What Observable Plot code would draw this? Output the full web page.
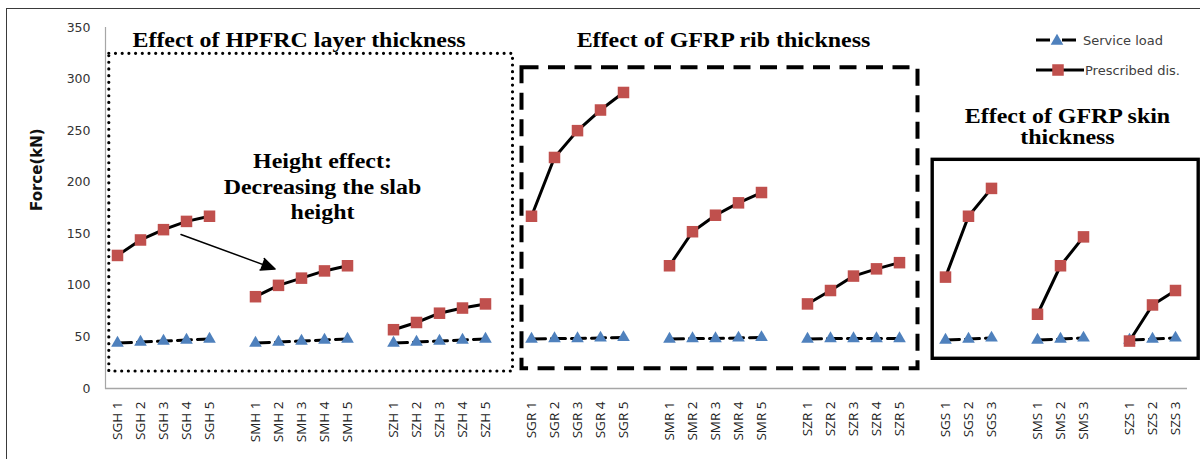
<!DOCTYPE html>
<html>
<head>
<meta charset="utf-8">
<script src="https://cdn.jsdelivr.net/npm/d3@7"></script>
<script src="https://cdn.jsdelivr.net/npm/@observablehq/plot@0.6"></script>
<style>
  html, body { margin: 0; padding: 0; background: #fff; }
  #wrap { position: relative; width: 1200px; height: 459px; overflow: hidden; background: #fff; }
  #border { position: absolute; left: 6px; top: 8px; width: 1400px; height: 700px; border: 1.5px solid #3a3a3a; box-sizing: border-box; }
  #chart { position: absolute; left: 0; top: 0; }
  #legend { position: absolute; left: 1030px; top: 25px; }
</style>
</head>
<body>
<div id="wrap">
  <div id="border"></div>
  <div id="chart"></div>
  <svg id="legend" width="170" height="60"></svg>
</div>
<script>
// ---- Data ----
const categoryGroups = [
  ["SGH 1", "SGH 2", "SGH 3", "SGH 4", "SGH 5"],
  ["SMH 1", "SMH 2", "SMH 3", "SMH 4", "SMH 5"],
  ["SZH 1", "SZH 2", "SZH 3", "SZH 4", "SZH 5"],
  ["SGR 1", "SGR 2", "SGR 3", "SGR 4", "SGR 5"],
  ["SMR 1", "SMR 2", "SMR 3", "SMR 4", "SMR 5"],
  ["SZR 1", "SZR 2", "SZR 3", "SZR 4", "SZR 5"],
  ["SGS 1", "SGS 2", "SGS 3"],
  ["SMS 1", "SMS 2", "SMS 3"],
  ["SZS 1", "SZS 2", "SZS 3"]
];
const serviceLoad = [
  [44, 45, 46, 47, 48],
  [44, 45, 46, 47, 48],
  [44, 45, 46, 47, 48],
  [48, 48.5, 48.5, 49, 49.5],
  [48, 48.5, 48.5, 49, 49.5],
  [48, 48.5, 48.5, 48.5, 48.5],
  [47, 48, 49],
  [47, 48, 49],
  [47, 48, 49]
];
const prescribedDis = [
  [129, 144, 154, 162, 167],
  [89, 100, 107, 114, 119],
  [57, 64, 73, 78, 82],
  [167, 224, 250, 270, 287],
  [119, 152, 168, 180, 190],
  [82, 95, 109, 116, 122],
  [108, 167, 194],
  [72, 119, 147],
  [46, 81, 95]
];
const seriesNames = ["Service load", "Prescribed dis."];
const yTicks = [0, 50, 100, 150, 200, 250, 300, 350];
const yLabel = "Force(kN)";
const annotationTexts = [
  "Effect of HPFRC layer thickness",
  "Effect of GFRP rib thickness",
  "Effect of GFRP skin\nthickness",
  "Height effect:\nDecreasing the slab\nheight"
];

// ---- Build domain (with blank gaps between groups) and rows ----
const xDomain = [];
const tickCats = [];
categoryGroups.forEach((g, gi) => {
  g.forEach(c => { xDomain.push(c); tickCats.push(c); });
  if (gi < categoryGroups.length - 1) xDomain.push("gap" + gi);
});
const serviceRows = [];
const prescribedRows = [];
categoryGroups.forEach((g, gi) => g.forEach((c, j) => {
  serviceRows.push({cat: c, group: gi, value: serviceLoad[gi][j]});
  prescribedRows.push({cat: c, group: gi, value: prescribedDis[gi][j]});
}));

const RED = "#C0504D";
const BLUE = "#4F81BD";
const serif = "Liberation Serif";

const chart = Plot.plot({
  width: 1200,
  height: 459,
  marginLeft: 105,
  marginRight: 13,
  marginTop: 27,
  marginBottom: 71,
  style: {background: "transparent", overflow: "visible", fontFamily: "DejaVu Sans"},
  x: {type: "point", domain: xDomain, padding: 0.5, align: 0.5},
  y: {domain: [0, 350]},
  marks: [
    Plot.frame({anchor: "left", stroke: "#a6a6a6", strokeWidth: 1.2}),
    Plot.ruleY([0], {stroke: "#a6a6a6", strokeWidth: 1.5}),
    Plot.axisY({ticks: yTicks, tickSize: 0, tickPadding: 15, fontSize: 12.5, label: null, color: "#333", fontFamily: "DejaVu Sans"}),
    Plot.axisX({ticks: tickCats, tickSize: 0, tickPadding: 13, tickRotate: -90, label: null, fontSize: 13.5, color: "#222", fontFamily: "Open Sans"}),
    Plot.text([yLabel], {frameAnchor: "left", rotate: -90, dx: -68, dy: 3, fontSize: 15, fontWeight: "bold", fontFamily: "DejaVu Sans", fill: "#111"}),

    // annotation boxes
    Plot.rect([{x1: "SGH 1", x2: "gap2", y1: 16.5, y2: 324.5}], {
      x1: "x1", x2: "x2", y1: "y1", y2: "y2", fill: "none", stroke: "black",
      strokeWidth: 3.2, strokeDasharray: "0 6.7", strokeLinecap: "round", insetLeft: -8.2, insetRight: -4.5
    }),
    Plot.rect([{x1: "SGR 1", x2: "gap5", y1: 19.1, y2: 311}], {
      x1: "x1", x2: "x2", y1: "y1", y2: "y2", fill: "none", stroke: "black",
      strokeWidth: 4, strokeDasharray: "17 9.5", insetLeft: -9.5, insetRight: 4.5
    }),
    Plot.rect([{x1: "SGS 1", x2: "SZS 3", y1: 28.8, y2: 221.7}], {
      x1: "x1", x2: "x2", y1: "y1", y2: "y2", fill: "none", stroke: "black",
      strokeWidth: 3.4, insetLeft: -12.8, insetRight: -23.2
    }),

    // arrow
    Plot.arrow([{x1: "SGH 3", y1: 155.5, x2: "SMH 2", y2: 114.7}], {
      x1: "x1", y1: "y1", x2: "x2", y2: "y2", bend: 0, stroke: "black", fill: "black",
      strokeWidth: 1.5, headLength: 15, headAngle: 48, insetStart: 18.6, insetEnd: 3.7
    }),

    // series
    Plot.line(serviceRows, {x: "cat", y: "value", z: "group", stroke: "black", strokeWidth: 3, strokeDasharray: "14 6"}),
    Plot.dot(serviceRows, {x: "cat", y: "value", symbol: "triangle", r: 4.7, fill: BLUE, stroke: "none"}),
    Plot.line(prescribedRows, {x: "cat", y: "value", z: "group", stroke: "black", strokeWidth: 3}),
    Plot.dot(prescribedRows, {x: "cat", y: "value", symbol: "square", r: 6.5, fill: RED, stroke: "none"}),

    // annotation texts
    Plot.text([{x: "SMH 3", y: 337.7, t: annotationTexts[0]}], {x: "x", y: "y", text: "t", dx: -2.5, fontSize: 21, fontWeight: "bold", fontFamily: serif, fill: "black"}),
    Plot.text([{x: "SMR 3", y: 337.7, t: annotationTexts[1]}], {x: "x", y: "y", text: "t", dx: 8, fontSize: 21, fontWeight: "bold", fontFamily: serif, fill: "black"}),
    Plot.text([{x: "SMS 2", y: 253.5, t: annotationTexts[2]}], {x: "x", y: "y", text: "t", dx: 7, lineHeight: 1.0, fontSize: 21, fontWeight: "bold", fontFamily: serif, fill: "black"}),
    Plot.text([{x: "SMH 4", y: 196.8, t: annotationTexts[3]}], {x: "x", y: "y", text: "t", dx: -2, lineHeight: 1.2, fontSize: 21, fontWeight: "bold", fontFamily: serif, fill: "black"})
  ]
});
document.getElementById("chart").appendChild(chart);

// stretch serif annotation text horizontally like the reference
chart.querySelectorAll('g[font-family="Liberation Serif"] text').forEach(t => {
  const tr = t.getAttribute("transform") || "";
  t.setAttribute("transform", tr + " scale(1.14,1)");
});

// ---- Legend ----
const leg = d3.select("#legend");
const r1 = 15, r2 = 45;
leg.append("line").attr("x1", 6).attr("x2", 46).attr("y1", r1).attr("y2", r1)
  .attr("stroke", "black").attr("stroke-width", 3).attr("stroke-dasharray", "14 12");
leg.append("path").attr("d", d3.symbol(d3.symbolTriangle, Math.PI * 4.7 * 4.7)()).attr("transform", `translate(27,${r1 + 1})`).attr("fill", BLUE);
leg.append("text").attr("x", 53).attr("y", r1).attr("dy", "0.35em").attr("font-family", "DejaVu Sans").attr("font-size", 13).attr("fill", "#404040").text(seriesNames[0]);
leg.append("line").attr("x1", 6).attr("x2", 54).attr("y1", r2).attr("y2", r2)
  .attr("stroke", "black").attr("stroke-width", 3);
leg.append("path").attr("d", d3.symbol(d3.symbolSquare, Math.PI * 6.5 * 6.5)()).attr("transform", `translate(28,${r2})`).attr("fill", RED);
leg.append("text").attr("x", 55).attr("y", r2).attr("dy", "0.35em").attr("font-family", "DejaVu Sans").attr("font-size", 13).attr("fill", "#404040").text(seriesNames[1]);
</script>
</body>
</html>
